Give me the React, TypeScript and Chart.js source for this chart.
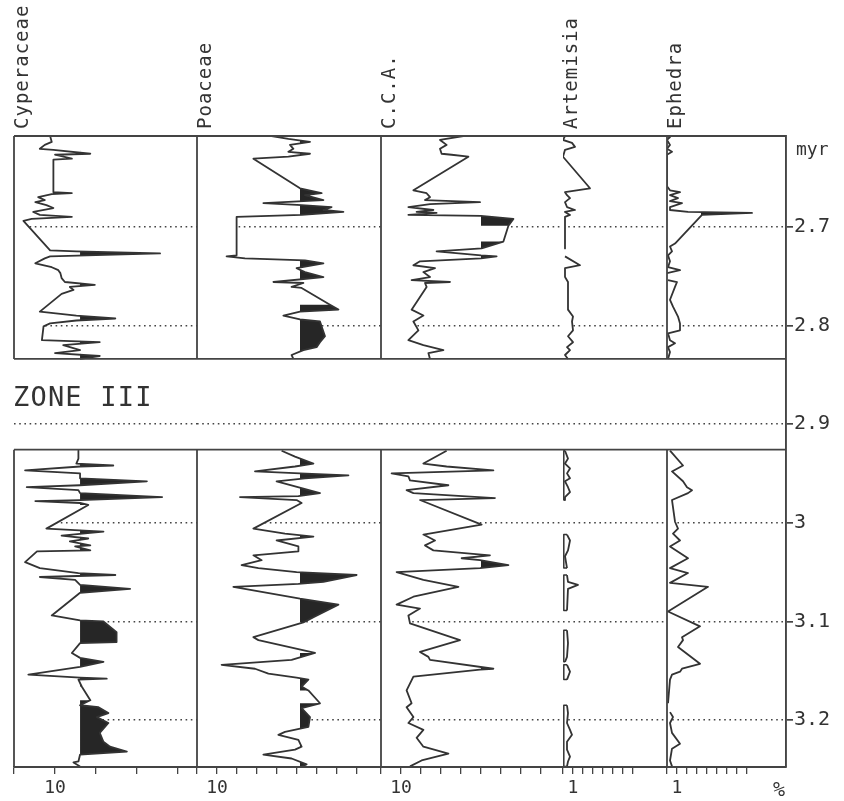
import React, { useEffect, useRef } from 'react';
import { Chart, registerables } from 'chart.js';

Chart.register(...registerables);

// ---------------- data ----------------
// depth axis, million years
const depthMin = 2.608;
const depthMax = 3.2476;
const zoneGapTop = 2.834;
const zoneGapBottom = 2.926;
const depthTicks = [2.7, 2.8, 2.9, 3.0, 3.1, 3.2];
const depthTickLabels = ['2.7', '2.8', '2.9', '3', '3.1', '3.2'];

const taxa = ['Cyperaceae', 'Poaceae', 'C.C.A.', 'Artemisia', 'Ephedra'];
const zoneLabel = 'ZONE III';
const depthUnit = 'myr';
const valueUnit = '%';

// x-axis ticks (%) and the one labelled tick per taxon
const cyperaceaeTicks = [0, 10, 20, 30, 40];
const poaceaeTicks = [0, 10, 20, 30, 40, 50, 60, 70, 80];
const ccaTicks = [0, 10, 20, 30, 40, 50, 60, 70, 80];
const artemisiaTicks = [0, 1, 2, 3, 4, 5, 6, 7];
const ephedraTicks = [0, 1, 2, 3, 4, 5, 6, 7, 8];
const labelledTicks = [10, 10, 10, 1, 1];

// level above which the curve is shaded black (%)
const shadeLevels = [16.1, 51.5, 50.0, null, 3.4];

// [age (myr), percent]; null = break in the record
const cyperaceaeTop = [
  [2.608, 8.8], [2.614, 9.2], [2.617, 7.5], [2.621, 6.3], [2.622, 9.6], [2.626, 18.6], [2.627, 10.0],
  [2.631, 14.1], [2.632, 9.6], [2.665, 9.6], [2.666, 14.1], [2.667, 9.2], [2.670, 5.9], [2.673, 7.5],
  [2.675, 5.2], [2.678, 7.9], [2.681, 9.6], [2.685, 4.7], [2.688, 6.3], [2.690, 14.1], [2.692, 4.3],
  [2.694, 2.3], [2.724, 8.8], [2.725, 15.2], [2.727, 35.6], [2.730, 8.8], [2.732, 7.5], [2.737, 5.2],
  [2.741, 9.2], [2.744, 10.8], [2.747, 11.3], [2.752, 11.6], [2.756, 12.4], [2.759, 19.7], [2.761, 13.6],
  [2.764, 14.5], [2.768, 11.6], [2.786, 6.3], [2.790, 15.2], [2.793, 24.7], [2.795, 15.2], [2.798, 8.8],
  [2.801, 7.2], [2.815, 6.8], [2.817, 20.9], [2.820, 12.0], [2.825, 16.1], [2.828, 10.0], [2.831, 20.9],
  [2.834, 16.1],
];
const cyperaceaeBottom = [
  [2.927, 15.7], [2.935, 15.7], [2.940, 15.2], [2.942, 24.2], [2.943, 16.1], [2.947, 2.7], [2.950, 16.1],
  [2.955, 16.1], [2.958, 32.4], [2.962, 16.1], [2.964, 3.1], [2.967, 15.7], [2.970, 16.1], [2.974, 36.1],
  [2.977, 16.1], [2.978, 5.2], [2.980, 16.1], [2.982, 18.1], [3.006, 7.9], [3.009, 21.8], [3.013, 11.6],
  [3.016, 18.1], [3.019, 13.6], [3.023, 18.6], [3.024, 14.9], [3.028, 18.6], [3.029, 5.6], [3.040, 2.7],
  [3.046, 6.3], [3.051, 15.7], [3.053, 24.7], [3.055, 6.3], [3.058, 14.9], [3.063, 16.1], [3.067, 28.3],
  [3.071, 16.1], [3.094, 9.2], [3.099, 16.1], [3.100, 21.8], [3.111, 25.0], [3.121, 25.0], [3.122, 16.1],
  [3.132, 14.1], [3.137, 16.1], [3.141, 21.8], [3.146, 16.1], [3.154, 3.5], [3.157, 16.1], [3.158, 22.6],
  [3.159, 15.7], [3.166, 16.5], [3.180, 18.6], [3.185, 16.1], [3.187, 20.6], [3.193, 23.0], [3.197, 20.2],
  [3.203, 23.0], [3.213, 20.9], [3.222, 21.8], [3.227, 23.4], [3.232, 27.5], [3.235, 16.1], [3.242, 15.7],
  [3.243, 14.5], [3.247, 16.1],
];

const poaceaeTop = [
  [2.608, 37.3], [2.611, 45.7], [2.614, 56.5], [2.617, 46.5], [2.621, 48.2], [2.624, 45.7], [2.626, 56.5],
  [2.629, 45.7], [2.631, 28.2], [2.661, 51.5], [2.666, 62.3], [2.668, 54.0], [2.673, 63.2], [2.676, 33.2],
  [2.678, 52.3], [2.680, 67.3], [2.683, 63.2], [2.685, 73.2], [2.688, 52.3], [2.690, 19.8], [2.729, 19.8],
  [2.730, 14.8], [2.732, 24.0], [2.734, 54.0], [2.737, 63.2], [2.742, 49.8], [2.746, 54.0], [2.751, 63.2],
  [2.756, 38.2], [2.757, 53.2], [2.761, 47.3], [2.762, 52.3], [2.779, 66.5], [2.784, 70.7], [2.786, 51.5],
  [2.790, 43.2], [2.794, 51.5], [2.796, 61.5], [2.804, 62.8], [2.811, 64.0], [2.817, 61.5], [2.822, 59.8],
  [2.825, 53.2], [2.830, 47.3], [2.834, 48.2],
];
const poaceaeBottom = [
  [2.927, 42.3], [2.933, 49.0], [2.940, 58.2], [2.943, 49.0], [2.948, 29.0], [2.950, 51.5], [2.952, 75.7],
  [2.955, 54.0], [2.958, 39.8], [2.965, 52.3], [2.970, 61.5], [2.973, 50.7], [2.974, 21.5], [2.977, 49.8],
  [2.980, 52.3], [3.006, 28.2], [3.011, 44.0], [3.014, 58.2], [3.018, 39.8], [3.024, 50.7], [3.029, 50.7],
  [3.033, 28.2], [3.038, 32.3], [3.043, 22.3], [3.046, 30.7], [3.050, 49.8], [3.053, 79.8], [3.060, 63.2],
  [3.062, 50.7], [3.065, 18.2], [3.077, 51.5], [3.083, 70.7], [3.095, 59.0], [3.101, 53.2], [3.116, 28.2],
  [3.119, 30.7], [3.132, 59.0], [3.139, 47.3], [3.144, 12.3], [3.148, 29.0], [3.153, 35.7], [3.157, 49.8],
  [3.159, 55.7], [3.166, 52.3], [3.170, 55.7], [3.183, 61.5], [3.188, 52.3], [3.197, 56.5], [3.207, 55.7],
  [3.212, 44.0], [3.215, 40.7], [3.220, 50.7], [3.227, 52.3], [3.230, 49.0], [3.235, 33.2], [3.239, 47.3],
  [3.245, 54.8], [3.247, 52.3],
];

const ccaTop = [
  [2.608, 41.2], [2.612, 29.5], [2.617, 32.8], [2.621, 29.5], [2.626, 30.3], [2.627, 35.3], [2.629, 43.7],
  [2.663, 16.2], [2.666, 22.8], [2.670, 24.5], [2.673, 22.0], [2.675, 49.5], [2.677, 24.5], [2.680, 13.7],
  [2.683, 26.2], [2.685, 17.8], [2.686, 27.8], [2.688, 13.7], [2.689, 50.0], [2.692, 66.2], [2.699, 63.7],
  [2.715, 61.2], [2.722, 50.3], [2.725, 27.8], [2.729, 50.0], [2.730, 57.8], [2.732, 50.0], [2.735, 19.5],
  [2.739, 16.2], [2.742, 27.0], [2.746, 21.2], [2.751, 24.5], [2.754, 15.3], [2.756, 34.5], [2.757, 22.0],
  [2.761, 22.8], [2.784, 15.3], [2.790, 21.2], [2.796, 16.2], [2.805, 18.7], [2.815, 13.7], [2.820, 21.2],
  [2.825, 31.2], [2.828, 23.7], [2.834, 24.5],
];
const ccaBottom = [
  [2.927, 32.8], [2.940, 21.2], [2.943, 32.8], [2.947, 56.2], [2.950, 5.3], [2.953, 13.7], [2.957, 14.5],
  [2.962, 33.7], [2.967, 12.8], [2.970, 16.2], [2.975, 57.0], [2.977, 19.5], [3.002, 50.3], [3.012, 21.2],
  [3.018, 27.0], [3.023, 22.0], [3.028, 26.2], [3.033, 54.5], [3.036, 40.3], [3.038, 49.5], [3.043, 63.7],
  [3.046, 49.5], [3.050, 7.8], [3.058, 21.2], [3.065, 38.7], [3.075, 16.2], [3.083, 7.8], [3.087, 19.5],
  [3.094, 13.7], [3.102, 14.5], [3.119, 39.5], [3.131, 19.5], [3.136, 23.7], [3.139, 24.5], [3.148, 56.2],
  [3.149, 49.5], [3.156, 16.2], [3.170, 12.8], [3.183, 15.3], [3.187, 12.8], [3.197, 16.2], [3.203, 13.7],
  [3.210, 21.2], [3.218, 17.8], [3.227, 21.2], [3.234, 33.7], [3.241, 20.3], [3.247, 14.5],
];

const artemisiaTop = [
  [2.608, 0.2], [2.612, 0.0], [2.615, 0.9], [2.619, 1.2], [2.622, 0.2], [2.629, 0.0], [2.661, 2.7],
  [2.665, 0.2], [2.668, 0.4], [2.671, 0.7], [2.675, 0.2], [2.680, 0.4], [2.683, 1.2], [2.685, 0.2],
  [2.688, 0.7], [2.690, 0.2], [2.722, 0.2], null,
  [2.730, 0.2], [2.739, 1.7], [2.742, 0.2], [2.751, 0.2], [2.756, 0.5], [2.784, 0.5], [2.791, 1.0],
  [2.796, 0.9], [2.805, 1.0], [2.811, 0.5], [2.817, 1.0], [2.822, 0.4], [2.825, 0.7], [2.830, 0.2],
  [2.834, 0.5],
];
const artemisiaBottom = [
  [2.927, 0.2], [2.935, 0.5], [2.940, 0.2], [2.945, 0.7], [2.950, 0.4], [2.955, 0.7], [2.958, 0.2],
  [2.964, 0.5], [2.969, 0.7], [2.974, 0.2], [2.977, 0.2], null,
  [3.012, 0.4], [3.018, 0.7], [3.028, 0.5], [3.034, 0.2], [3.046, 0.4], null,
  [3.053, 0.4], [3.060, 0.5], [3.063, 1.5], [3.067, 0.5], [3.089, 0.4], null,
  [3.109, 0.4], [3.122, 0.5], [3.136, 0.4], [3.141, 0.2], null,
  [3.144, 0.4], [3.151, 0.7], [3.159, 0.4], null,
  [3.185, 0.4], [3.193, 0.5], [3.203, 0.4], [3.210, 0.7], [3.215, 0.9], [3.222, 0.4], [3.230, 0.4],
  [3.237, 0.7], [3.242, 0.5], [3.247, 0.4],
];

const ephedraTop = [
  [2.608, 0.0], [2.609, 0.3], [2.612, 0.0], [2.617, 0.3], [2.621, 0.0], [2.624, 0.5], [2.627, 0.0],
  [2.659, 0.0], [2.663, 0.3], [2.665, 1.3], [2.668, 0.3], [2.671, 1.1], [2.674, 0.3], [2.676, 1.5],
  [2.680, 0.3], [2.683, 0.3], [2.685, 2.1], [2.686, 8.5], [2.688, 3.5], [2.717, 0.8], [2.720, 0.3],
  [2.725, 0.5], [2.729, 0.1], [2.735, 0.3], [2.741, 0.1], [2.744, 1.3], [2.747, 0.0], null,
  [2.754, 0.1], [2.756, 1.0], [2.761, 0.8], [2.774, 0.3], [2.781, 0.6], [2.791, 1.1], [2.798, 1.3],
  [2.805, 1.3], [2.808, 0.1], [2.815, 0.3], [2.818, 0.8], [2.822, 0.1], [2.827, 0.3], [2.834, 0.1],
];
const ephedraBottom = [
  [2.927, 0.3], [2.942, 1.6], [2.948, 0.5], [2.958, 1.6], [2.964, 2.0], [2.967, 2.5], [2.970, 2.1],
  [2.977, 0.5], [2.999, 0.8], [3.006, 1.1], [3.011, 0.6], [3.018, 1.3], [3.024, 0.3], [3.036, 2.1],
  [3.046, 0.3], [3.051, 2.1], [3.061, 0.3], [3.065, 4.1], [3.090, 0.1], [3.105, 3.3], [3.116, 1.5],
  [3.119, 1.6], [3.126, 1.1], [3.143, 3.3], [3.148, 1.5], [3.151, 1.3], [3.154, 0.5], [3.159, 0.3],
  [3.183, 0.1], null,
  [3.192, 0.3], [3.197, 0.6], [3.203, 0.3], [3.213, 0.5], [3.224, 1.3], [3.229, 0.5], [3.241, 0.3],
  [3.247, 0.5],
];

// ---------------- layout / style ----------------
const FONT = '"DejaVu Sans Mono", "Liberation Mono", monospace';
const INK = '#333333';
const FRAME = '#444444';
const PAD = 12;
const RIGHT_AXIS_W = 58;
const CHART_TOP = 136;
const AXIS_H = 34;
const PAGE_H = 801;
const FILL_MAX_SPAN = 0.0125;

const panels = [
  { left: 14, right: 197, max: 44.6, ticks: cyperaceaeTicks, series: [cyperaceaeTop, cyperaceaeBottom], leftEdge: true, closeBase: false },
  { left: 197, right: 381, max: 92, ticks: poaceaeTicks, series: [poaceaeTop, poaceaeBottom], leftEdge: true, closeBase: false },
  { left: 381, right: 563, max: 91, ticks: ccaTicks, series: [ccaTop, ccaBottom], leftEdge: true, closeBase: false },
  { left: 563, right: 667, max: 10.4, ticks: artemisiaTicks, series: [artemisiaTop, artemisiaBottom], leftEdge: false, closeBase: true },
  { left: 667, right: 786, max: 11.9, ticks: ephedraTicks, series: [ephedraTop, ephedraBottom], leftEdge: true, closeBase: false },
];

function splitRuns(list: any[]): number[][][] {
  const out: number[][][] = [];
  let cur: number[][] = [];
  for (const p of list) {
    if (p === null) {
      if (cur.length) out.push(cur);
      cur = [];
    } else cur.push(p);
  }
  if (cur.length) out.push(cur);
  return out;
}

const pollenPlugin = {
  id: 'pollenDraw',
  beforeDatasetsDraw(chart: any, _a: any, opts: any) {
    const ctx = chart.ctx;
    const area = chart.chartArea;
    const xs = chart.scales.x;
    ctx.save();
    ctx.beginPath();
    ctx.rect(area.left, area.top, area.right - area.left, area.bottom - area.top);
    ctx.clip();
    // white out the dotted guide lines to the left of each curve
    chart.data.datasets.forEach((ds: any, i: number) => {
      const pts = chart.getDatasetMeta(i).data;
      if (pts.length < 2) return;
      ctx.beginPath();
      ctx.moveTo(area.left, pts[0].y);
      pts.forEach((p: any) => ctx.lineTo(p.x, p.y));
      ctx.lineTo(area.left, pts[pts.length - 1].y);
      ctx.closePath();
      ctx.fillStyle = '#ffffff';
      ctx.fill();
    });
    // black shading above the level
    if (opts.level != null) {
      const tx = xs.getPixelForValue(opts.level);
      ctx.save();
      ctx.beginPath();
      ctx.rect(tx, area.top, area.right - tx, area.bottom - area.top);
      ctx.clip();
      ctx.beginPath();
      chart.data.datasets.forEach((ds: any, i: number) => {
        const pts = chart.getDatasetMeta(i).data;
        const raw = ds.data;
        for (let k = 0; k < pts.length - 1; k++) {
          if (Math.abs(raw[k + 1].y - raw[k].y) > FILL_MAX_SPAN) continue;
          const a = pts[k];
          const b = pts[k + 1];
          if (a.x <= tx + 0.5 && b.x <= tx + 0.5) continue;
          ctx.moveTo(tx, a.y);
          ctx.lineTo(a.x, a.y);
          ctx.lineTo(b.x, b.y);
          ctx.lineTo(tx, b.y);
          ctx.closePath();
        }
      });
      ctx.fillStyle = '#262626';
      ctx.fill();
      ctx.restore();
    }
    ctx.restore();
  },
  afterDatasetsDraw(chart: any, _a: any, opts: any) {
    const ctx = chart.ctx;
    const area = chart.chartArea;
    const xs = chart.scales.x;
    const ys = chart.scales.y;
    ctx.save();
    ctx.lineJoin = 'round';
    // outline closed back to the zero line
    chart.data.datasets.forEach((ds: any, i: number) => {
      if (!ds.closeBase) return;
      const pts = chart.getDatasetMeta(i).data;
      if (!pts.length) return;
      const bx = xs.getPixelForValue(0);
      const f = pts[0];
      const l = pts[pts.length - 1];
      ctx.beginPath();
      ctx.moveTo(f.x, f.y);
      ctx.lineTo(bx + 0.8, f.y);
      ctx.lineTo(bx + 0.8, l.y);
      ctx.lineTo(l.x, l.y);
      ctx.strokeStyle = INK;
      ctx.lineWidth = 1.5;
      ctx.stroke();
    });
    // block frames
    ctx.strokeStyle = FRAME;
    ctx.lineWidth = 1.8;
    opts.blocks.forEach((b: number[]) => {
      const y1 = ys.getPixelForValue(b[0]);
      const y2 = ys.getPixelForValue(b[1]);
      ctx.beginPath();
      ctx.moveTo(area.left, y1);
      ctx.lineTo(area.right, y1);
      ctx.moveTo(area.left, y2);
      ctx.lineTo(area.right, y2);
      if (opts.leftEdge) {
        ctx.moveTo(area.left, y1);
        ctx.lineTo(area.left, y2);
      }
      ctx.stroke();
    });
    ctx.restore();
  },
};

function Panel({ idx }: { idx: number }) {
  const ref = useRef<HTMLCanvasElement>(null);
  const p = panels[idx];
  const last = idx === panels.length - 1;
  const width = p.right - p.left + 2 * PAD + (last ? RIGHT_AXIS_W : 0);

  useEffect(() => {
    const datasets: any[] = [];
    p.series.forEach((s, si) => {
      splitRuns(s).forEach((run) => {
        datasets.push({
          data: run.map(([d, v]) => ({ x: v, y: d })),
          borderColor: INK,
          borderWidth: 1.8,
          pointRadius: 0,
          tension: 0,
          fill: false,
          borderJoinStyle: 'round',
          closeBase: p.closeBase && si === 1,
        });
      });
    });

    const scales: any = {
      x: {
        type: 'linear',
        position: 'bottom',
        min: 0,
        max: p.max,
        afterBuildTicks: (s: any) => {
          s.ticks = p.ticks.map((v) => ({ value: v }));
        },
        afterFit: (s: any) => {
          s.height = AXIS_H;
        },
        ticks: {
          autoSkip: false,
          maxRotation: 0,
          padding: 4,
          color: INK,
          font: { family: FONT, size: 18 },
          callback: (v: any) => (v === labelledTicks[idx] ? String(v) : ''),
        },
        grid: { drawOnChartArea: false, drawTicks: true, tickLength: 7, color: FRAME, lineWidth: 1.3 },
        border: { display: true, color: FRAME, width: 1.8 },
      },
      y: {
        type: 'linear',
        position: 'left',
        reverse: true,
        min: depthMin,
        max: depthMax,
        afterBuildTicks: (s: any) => {
          s.ticks = depthTicks.map((v) => ({ value: v }));
        },
        afterFit: (s: any) => {
          s.width = 0;
        },
        ticks: { display: false },
        grid: { drawTicks: false, color: '#444444', lineWidth: 1.5 },
        border: { display: false, dash: [1.6, 3.6] },
      },
    };
    if (last) {
      scales.yr = {
        type: 'linear',
        position: 'right',
        reverse: true,
        min: depthMin,
        max: depthMax,
        afterBuildTicks: (s: any) => {
          s.ticks = depthTicks.map((v) => ({ value: v }));
        },
        afterFit: (s: any) => {
          s.width = RIGHT_AXIS_W;
        },
        ticks: {
          display: true,
          padding: 1,
          color: INK,
          font: { family: FONT, size: 20 },
          callback: (_v: any, i: number) => depthTickLabels[i],
        },
        grid: { drawOnChartArea: false, drawTicks: true, tickLength: 7, color: FRAME, lineWidth: 1.7 },
        border: { display: true, color: FRAME, width: 1.9 },
      };
    }

    const chart = new Chart(ref.current as HTMLCanvasElement, {
      type: 'line',
      data: { datasets },
      options: {
        animation: false,
        responsive: false,
        indexAxis: 'y',
        events: [],
        layout: { padding: { left: PAD, right: PAD, top: CHART_TOP, bottom: 0 } },
        plugins: {
          legend: { display: false },
          tooltip: { enabled: false },
          title: { display: false },
          pollenDraw: {
            level: shadeLevels[idx],
            leftEdge: p.leftEdge,
            blocks: [
              [depthMin, zoneGapTop],
              [zoneGapBottom, depthMax],
            ],
          },
        } as any,
        scales,
      } as any,
      plugins: [pollenPlugin as any],
    });
    return () => chart.destroy();
  }, []);

  return (
    <canvas
      ref={ref}
      width={width}
      height={PAGE_H}
      style={{ position: 'absolute', left: p.left - PAD, top: 0, width, height: PAGE_H }}
    />
  );
}

export default function App() {
  const titleStyle = (left: number): React.CSSProperties => ({
    position: 'absolute',
    left,
    top: 0,
    height: 129,
    width: 19,
    lineHeight: '19px',
    writingMode: 'vertical-rl',
    transform: 'rotate(180deg)',
    whiteSpace: 'nowrap',
    fontFamily: FONT,
    fontSize: 19,
    letterSpacing: '1px',
    color: '#333333',
  });
  return (
    <div
      style={{
        position: 'absolute',
        left: 0,
        top: 0,
        width: 844,
        height: PAGE_H,
        background: '#ffffff',
        overflow: 'hidden',
      }}
    >
      {panels.map((_, i) => (
        <Panel key={i} idx={i} />
      ))}
      {taxa.map((t, i) => (
        <div key={t} style={titleStyle(panels[i].left - 2)}>
          {t}
        </div>
      ))}
      <div
        style={{
          position: 'absolute',
          left: 13,
          top: 382,
          fontFamily: FONT,
          fontSize: 27,
          lineHeight: '30px',
          letterSpacing: '1.2px',
          color: '#333333',
          whiteSpace: 'nowrap',
        }}
      >
        {zoneLabel}
      </div>
      <div
        style={{
          position: 'absolute',
          left: 796,
          top: 139,
          fontFamily: FONT,
          fontSize: 18,
          lineHeight: '20px',
          color: '#333333',
        }}
      >
        {depthUnit}
      </div>
      <div
        style={{
          position: 'absolute',
          left: 773,
          top: 778,
          fontFamily: FONT,
          fontSize: 20,
          lineHeight: '22px',
          color: '#333333',
        }}
      >
        {valueUnit}
      </div>
    </div>
  );
}
